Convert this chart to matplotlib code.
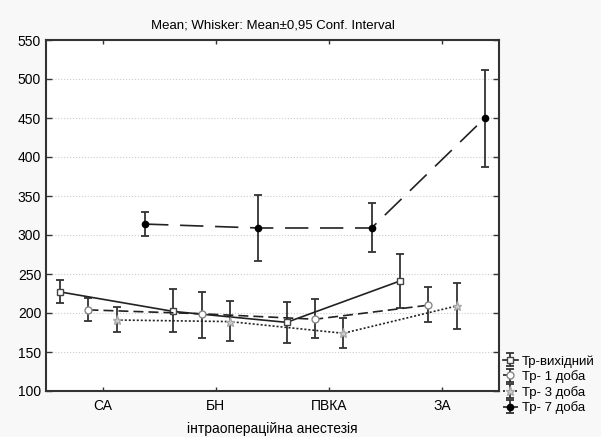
import matplotlib
matplotlib.use("Agg")
import matplotlib.pyplot as plt
import numpy as np

plt.rcParams["font.family"] = ["Liberation Sans", "DejaVu Sans"]

# категорії (інтраопераційна анестезія)
categories = ["СА", "БН", "ПВКА", "ЗА"]
series_names = ["Тр-вихідний", "Тр- 1 доба", "Тр- 3 доба", "Тр- 7 доба"]

# середні та межі 95% довірчого інтервалу
mean_0 = [227, 202, 188, 241]
low_0 = [213, 176, 161, 206]
high_0 = [242, 231, 214, 276]

mean_1 = [204, 199, 192, 210]
low_1 = [190, 168, 168, 189]
high_1 = [219, 227, 218, 233]

mean_3 = [191, 189, 174, 209]
low_3 = [176, 164, 155, 179]
high_3 = [208, 215, 194, 238]

mean_7 = [314, 309, 309, 450]
low_7 = [299, 267, 278, 387]
high_7 = [329, 351, 341, 512]

means = [mean_0, mean_1, mean_3, mean_7]
lows = [low_0, low_1, low_3, low_7]
highs = [high_0, high_1, high_3, high_7]

offsets = [-0.375, -0.125, 0.125, 0.375]
line_styles = ["-", (0, (6, 3)), (0, (1.2, 1.2)), (0, (14, 7))]
markers = ["s", "o", "*", "o"]
marker_faces = ["white", "white", "#d0d0d0", "black"]
marker_edges = ["#444444", "#888888", "#aaaaaa", "black"]
marker_sizes = [4.5, 5, 6.5, 4.5]

fig = plt.figure(figsize=(6.01, 4.37), dpi=100, facecolor="#f8f8f8")
ax = fig.add_axes([46 / 601, 1 - 391 / 437, 453 / 601, 351 / 437])
ax.set_facecolor("white")

x_base = np.arange(len(categories)) + 0.5
handles = []
for i in range(4):
    m = np.array(means[i])
    lo = np.array(lows[i])
    hi = np.array(highs[i])
    h = ax.errorbar(
        x_base + offsets[i],
        m,
        yerr=[m - lo, hi - m],
        color="#222222",
        ecolor="#333333",
        elinewidth=1.3,
        capsize=3,
        capthick=1.3,
        linestyle=line_styles[i],
        linewidth=1.2,
        marker=markers[i],
        markersize=marker_sizes[i],
        markerfacecolor=marker_faces[i],
        markeredgecolor=marker_edges[i],
        zorder=3,
    )
    handles.append(h)

ax.set_xlim(0, 4)
ax.set_ylim(100, 550)
ax.set_xticks(x_base)
ax.set_xticklabels(categories, fontsize=10)
ax.set_yticks(np.arange(100, 551, 50))
ax.tick_params(axis="y", labelsize=10, direction="in", right=True, length=4, width=1, color="#333333")
ax.tick_params(axis="x", direction="in", top=True, length=3, width=1, color="#333333", pad=6)
ax.yaxis.grid(True, linestyle=":", color="#cccccc", linewidth=0.8)
for s in ax.spines.values():
    s.set_color("#333333")
    s.set_linewidth(1.5)

ax.set_title("Mean; Whisker: Mean±0,95 Conf. Interval", fontsize=9.5, pad=8)
fig.text(272 / 601, 1 - 429 / 437, "інтраопераційна анестезія", fontsize=10,
         ha="center", va="center")

fig.legend(
    handles,
    series_names,
    loc="upper left",
    bbox_to_anchor=(503 / 601, 1 - 355 / 437),
    frameon=False,
    fontsize=9.5,
    handlelength=1.1,
    handletextpad=0.35,
    labelspacing=0.2,
    borderaxespad=0,
    borderpad=0,
)

fig.savefig("out.png", dpi=100, facecolor=fig.get_facecolor())
